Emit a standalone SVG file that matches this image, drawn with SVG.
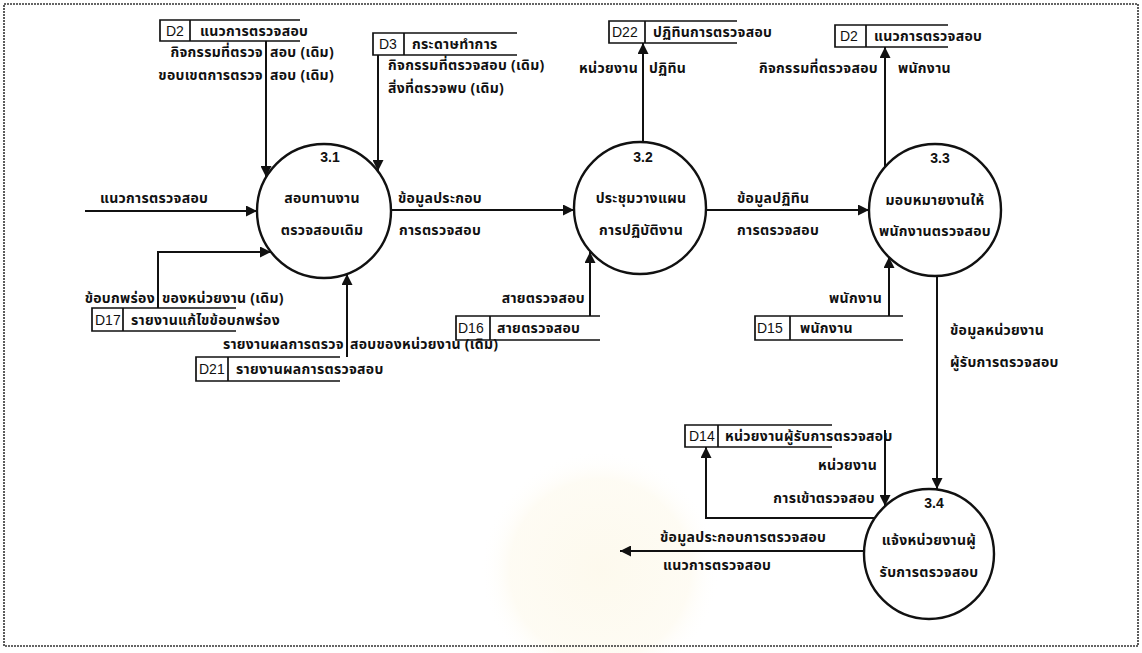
<svg xmlns="http://www.w3.org/2000/svg" width="1142" height="653" viewBox="0 0 1142 653">
  <defs>
    <marker id="ah" viewBox="0 0 10 10" refX="10" refY="5" markerWidth="14" markerHeight="11" markerUnits="userSpaceOnUse" orient="auto">
      <path d="M0,0 L10,5 L0,10 z" fill="#111"/>
    </marker>
    <radialGradient id="seal" cx="0.5" cy="0.5" r="0.5">
      <stop offset="0" stop-color="#fbf4dc" stop-opacity="0.5"/>
      <stop offset="0.75" stop-color="#fcf6e2" stop-opacity="0.4"/>
      <stop offset="1" stop-color="#fff" stop-opacity="0"/>
    </radialGradient>
    <style>
      .frame { fill:none; stroke:#333; stroke-width:1.6; stroke-dasharray:2 1; }
      .ln { fill:none; stroke:#111; stroke-width:2; marker-end:url(#ah); }
      .store path { fill:none; stroke:#111; stroke-width:1.7; }
      .proc circle { fill:#fff; stroke:#111; stroke-width:2.4; }
      .t { font-family:"Noto Sans Thai","Noto Sans","DejaVu Sans",sans-serif; font-size:14px; letter-spacing:0.3px; font-weight:bold; fill:#111; }
      .id { font-family:"Liberation Sans",Arial,sans-serif; font-size:14px; fill:#111; }
      .num { font-weight:bold; }
      .c { text-anchor:middle; }
      .e { text-anchor:end; }
    </style>
  </defs>

  <rect width="1142" height="653" fill="#fff"/>
  <!-- faint emblem printed behind the lower middle of the page -->
  <circle cx="600" cy="570" r="120" fill="url(#seal)"/>
  <rect class="frame" x="4" y="4" width="1134" height="642"/>

  <!-- data flows -->
  <g id="connectors">
    <path class="ln" d="M266,41 V177"/>
    <path class="ln" d="M378,55 V171"/>
    <path class="ln" d="M85,211 H257"/>
    <path class="ln" d="M158,308 V252 H271"/>
    <path class="ln" d="M347,357 V274"/>
    <path class="ln" d="M391,210 H574"/>
    <path class="ln" d="M643,142 V43"/>
    <path class="ln" d="M590,316 V252"/>
    <path class="ln" d="M706,210 H869"/>
    <path class="ln" d="M885,168 V47"/>
    <path class="ln" d="M889,316 V257"/>
    <path class="ln" d="M937,276 V489"/>
    <path class="ln" d="M885,430 V506"/>
    <path class="ln" d="M875,518 H706 V447"/>
    <path class="ln" d="M864,551 H620"/>
  </g>

  <!-- flow labels -->
  <g id="flow-labels" class="t">
    <text y="57"><tspan x="263" class="e">กิจกรรมที่ตรวจ</tspan><tspan x="270">สอบ (เดิม)</tspan></text>
    <text y="80"><tspan x="263" class="e">ขอบเขตการตรวจ</tspan><tspan x="270">สอบ (เดิม)</tspan></text>
    <text x="100" y="203">แนวการตรวจสอบ</text>
    <text x="388" y="70">กิจกรรมที่ตรวจสอบ (เดิม)</text>
    <text x="388" y="93">สิ่งที่ตรวจพบ (เดิม)</text>
    <text x="440" y="203" class="c">ข้อมูลประกอบ</text>
    <text x="440" y="235" class="c">การตรวจสอบ</text>
    <text y="303"><tspan x="155" class="e">ข้อบกพร่อง</tspan><tspan x="162">ของหน่วยงาน (เดิม)</tspan></text>
    <text y="349"><tspan x="344" class="e">รายงานผลการตรวจ</tspan><tspan x="350">สอบของหน่วยงาน (เดิม)</tspan></text>
    <text y="73"><tspan x="638" class="e">หน่วยงาน</tspan><tspan x="649">ปฏิทิน</tspan></text>
    <text x="585" y="303" class="e">สายตรวจสอบ</text>
    <text x="737" y="203">ข้อมูลปฏิทิน</text>
    <text x="737" y="235">การตรวจสอบ</text>
    <text y="73"><tspan x="878" class="e">กิจกรรมที่ตรวจสอบ</tspan><tspan x="898">พนักงาน</tspan></text>
    <text x="882" y="303" class="e">พนักงาน</text>
    <text x="950" y="335">ข้อมูลหน่วยงาน</text>
    <text x="950" y="367">ผู้รับการตรวจสอบ</text>
    <text x="877" y="470" class="e">หน่วยงาน</text>
    <text x="875" y="503" class="e">การเข้าตรวจสอบ</text>
    <text x="660" y="542">ข้อมูลประกอบการตรวจสอบ</text>
    <text x="663" y="570">แนวการตรวจสอบ</text>
  </g>

  <!-- processes -->
  <g id="p31" class="proc">
    <circle cx="324" cy="211" r="67"/>
    <text class="id num c" x="330" y="162">3.1</text>
    <text class="t c" x="322" y="203">สอบทานงาน</text>
    <text class="t c" x="322" y="235">ตรวจสอบเดิม</text>
  </g>
  <g id="p32" class="proc">
    <circle cx="640" cy="208" r="66"/>
    <text class="id num c" x="643" y="162">3.2</text>
    <text class="t c" x="641" y="203">ประชุมวางแผน</text>
    <text class="t c" x="641" y="235">การปฏิบัติงาน</text>
  </g>
  <g id="p33" class="proc">
    <circle cx="935" cy="210" r="66"/>
    <text class="id num c" x="940" y="163">3.3</text>
    <text class="t c" x="935" y="205">มอบหมายงานให้</text>
    <text class="t c" x="935" y="236">พนักงานตรวจสอบ</text>
  </g>
  <g id="p34" class="proc">
    <circle cx="929" cy="554" r="65"/>
    <text class="id num c" x="934" y="508">3.4</text>
    <text class="t c" x="929" y="545">แจ้งหน่วยงานผู้</text>
    <text class="t c" x="929" y="577">รับการตรวจสอบ</text>
  </g>

  <!-- data stores -->
  <g id="d2a" class="store">
    <path d="M300,20 H160 V41 H300 M190,20 V41"/>
    <text class="id" x="166" y="36">D2</text>
    <text class="t" x="200" y="36">แนวการตรวจสอบ</text>
  </g>
  <g id="d3" class="store">
    <path d="M517,33 H373 V55 H517 M404,33 V55"/>
    <text class="id" x="379" y="49">D3</text>
    <text class="t" x="412" y="49">กระดาษทำการ</text>
  </g>
  <g id="d22" class="store">
    <path d="M737,21 H609 V43 H737 M645,21 V43"/>
    <text class="id" x="612" y="37">D22</text>
    <text class="t" x="653" y="37">ปฏิทินการตรวจสอบ</text>
  </g>
  <g id="d2b" class="store">
    <path d="M948,25 H835 V47 H948 M866,25 V47"/>
    <text class="id" x="840" y="41">D2</text>
    <text class="t" x="874" y="41">แนวการตรวจสอบ</text>
  </g>
  <g id="d17" class="store">
    <path d="M236,308 H92 V331 H236 M123,308 V331"/>
    <text class="id" x="95" y="325">D17</text>
    <text class="t" x="131" y="325">รายงานแก้ไขข้อบกพร่อง</text>
  </g>
  <g id="d21" class="store">
    <path d="M340,357 H196 V381 H340 M228,357 V381"/>
    <text class="id" x="199" y="374">D21</text>
    <text class="t" x="236" y="374">รายงานผลการตรวจสอบ</text>
  </g>
  <g id="d16" class="store">
    <path d="M600,316 H456 V340 H600 M490,316 V340"/>
    <text class="id" x="458" y="333">D16</text>
    <text class="t" x="497" y="333">สายตรวจสอบ</text>
  </g>
  <g id="d15" class="store">
    <path d="M903,316 H755 V340 H903 M790,316 V340"/>
    <text class="id" x="757" y="333">D15</text>
    <text class="t" x="800" y="333">พนักงาน</text>
  </g>
  <g id="d14" class="store">
    <path d="M832,425 H685 V447 H832 M718,425 V447"/>
    <text class="id" x="689" y="441">D14</text>
    <text class="t" x="725" y="441">หน่วยงานผู้รับการตรวจสอบ</text>
  </g>
</svg>
